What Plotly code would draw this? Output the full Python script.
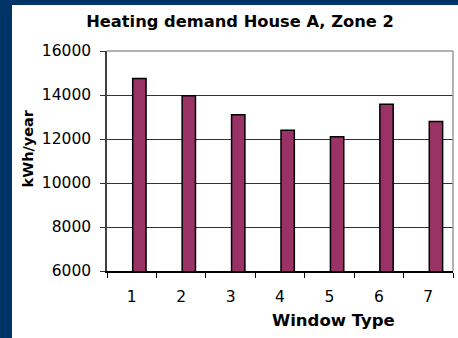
import plotly.graph_objects as go

# Annual heating demand per window type
window_types = [1, 2, 3, 4, 5, 6, 7]
heating_kwh = [14750, 13970, 13100, 12400, 12100, 13580, 12800]
y_ticks = [6000, 8000, 10000, 12000, 14000, 16000]

W, H = 458, 338
L, R, T, B = 107, 5, 51, 67
PW, PH = W - L - R, H - T - B

def px_x(px):
    return (px - L) / PW

def px_y(py):
    return 1 - (py - T) / PH

FONT = "DejaVu Sans, Liberation Sans, Arial, sans-serif"
NAVY = "#003366"

fig = go.Figure()
fig.add_trace(go.Bar(
    x=window_types,
    y=heating_kwh,
    width=0.27,
    offset=0.02,
    marker=dict(color="#993366", line=dict(color="#000000", width=1.5)),
    showlegend=False,
))

fig.update_layout(
    width=W, height=H,
    margin=dict(l=L, r=R, t=T, b=B, pad=0),
    paper_bgcolor=NAVY,
    plot_bgcolor="white",
    font=dict(family=FONT, size=15.5, color="black"),
    title=dict(
        text="<b>Heating demand House A, Zone 2</b>",
        font=dict(family=FONT, size=16.3, color="black"),
        xref="container", yref="container",
        x=240 / W, y=1 - 21.5 / H, xanchor="center", yanchor="middle",
    ),
    xaxis=dict(
        range=[0.5, 7.5],
        tickvals=window_types,
        ticktext=[str(v) for v in window_types],
        ticks="",
        showgrid=False,
        zeroline=False,
        showline=True, linecolor="#000000", linewidth=1.5,
        ticklabelstandoff=11,
        minor=dict(tick0=0.5, dtick=1, ticks="outside", ticklen=5,
                   tickcolor="#000000", tickwidth=1, showgrid=False),
    ),
    yaxis=dict(
        range=[6000, 16000],
        tickvals=y_ticks,
        ticktext=[str(v) for v in y_ticks],
        ticks="outside", ticklen=5, tickcolor="#333333", tickwidth=1,
        showgrid=True, gridcolor="#333333", gridwidth=1,
        zeroline=False,
        showline=True, linecolor="#404040", linewidth=1.5,
        ticklabelstandoff=6,
    ),
    shapes=[
        # white chart panel inside the navy frame
        dict(type="rect", xref="paper", yref="paper", layer="below",
             x0=px_x(12), x1=px_x(W + 2), y0=px_y(5), y1=px_y(H + 2),
             fillcolor="white", line=dict(width=0)),
        # grey plot-area border on top and right
        dict(type="line", xref="paper", yref="paper", layer="above",
             x0=0, x1=1, y0=1, y1=1, line=dict(color="#9a9a9a", width=1.5)),
        dict(type="line", xref="paper", yref="paper", layer="above",
             x0=1, x1=1, y0=0, y1=1, line=dict(color="#9a9a9a", width=1.5)),
    ],
    annotations=[
        dict(text="<b>kWh/year</b>", textangle=-90, showarrow=False,
             xref="paper", yref="paper", x=px_x(27.5), y=px_y(149),
             xanchor="center", yanchor="middle",
             font=dict(family=FONT, size=14.5, color="black")),
        dict(text="<b>Window Type</b>", showarrow=False,
             xref="paper", yref="paper", x=px_x(333.5), y=px_y(320),
             xanchor="center", yanchor="middle",
             font=dict(family=FONT, size=16.5, color="black")),
    ],
)

fig.write_html("out.html")
